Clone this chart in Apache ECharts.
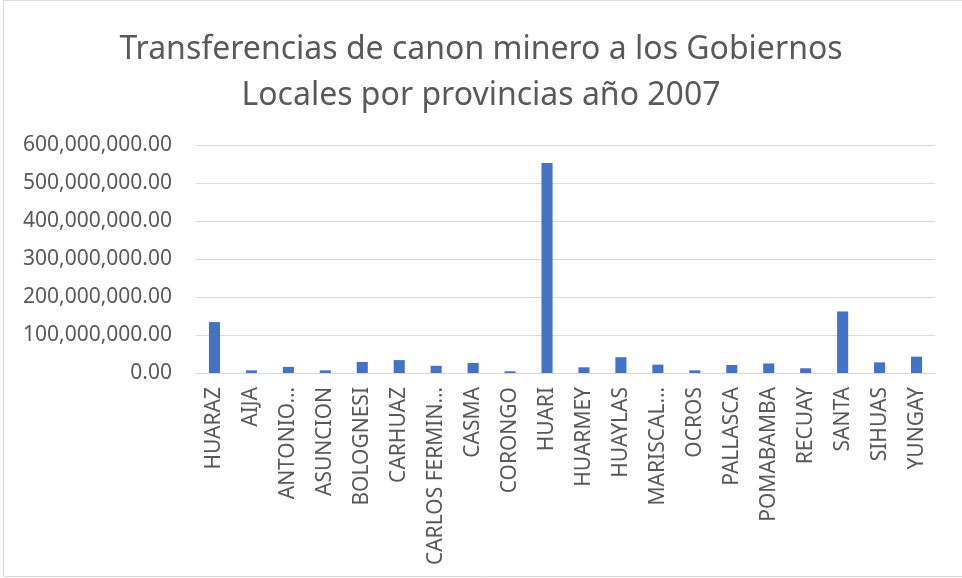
<!DOCTYPE html>
<html>
<head>
<meta charset="utf-8">
<script src="https://cdn.jsdelivr.net/npm/echarts@6/dist/echarts.min.js"></script>
<style>
  html, body { margin: 0; padding: 0; background: #fff; }
  #chart { width: 962px; height: 578px; }
</style>
</head>
<body>
<div id="chart"></div>
<script>
// Provinces of Áncash (axis labels as shown, long names shortened)
const provinces = [
  'HUARAZ', 'AIJA', 'ANTONIO…', 'ASUNCION', 'BOLOGNESI', 'CARHUAZ',
  'CARLOS FERMIN…', 'CASMA', 'CORONGO', 'HUARI', 'HUARMEY', 'HUAYLAS',
  'MARISCAL…', 'OCROS', 'PALLASCA', 'POMABAMBA', 'RECUAY', 'SANTA',
  'SIHUAS', 'YUNGAY'
];

// Mining canon transfers to local governments, 2007 (soles)
const transfers = [
  134000000, 7000000, 16000000, 7000000, 29000000, 34000000,
  19000000, 26500000, 4500000, 552500000, 15000000, 41500000,
  22000000, 7000000, 21000000, 25000000, 12500000, 162000000,
  28000000, 43000000
];

// Value axis ticks
const yTicks = [0, 100000000, 200000000, 300000000, 400000000, 500000000, 600000000];

const chart = echarts.init(document.getElementById('chart'));

function fmt(v) {
  return v.toLocaleString('en-US', { minimumFractionDigits: 2, maximumFractionDigits: 2 });
}

chart.setOption({
  backgroundColor: '#ffffff',
  animation: false,
  textStyle: { fontFamily: 'Noto Sans' },
  title: {
    text: 'Transferencias de canon minero a los Gobiernos\nLocales por provincias año 2007',
    left: 'center',
    top: 22,
    textStyle: {
      fontFamily: 'Noto Sans',
      fontSize: 32,
      fontWeight: 'normal',
      color: '#595959',
      lineHeight: 46
    }
  },
  graphic: [{
    type: 'rect',
    shape: { x: 3.5, y: 0.5, width: 970, height: 576 },
    style: { fill: 'none', stroke: '#d9d9d9', lineWidth: 1 },
    silent: true
  }],
  grid: { left: 196, right: 27, top: 145, bottom: 205, containLabel: false },
  xAxis: {
    type: 'category',
    data: provinces,
    axisLine: { show: true, lineStyle: { color: '#d9d9d9', width: 1 } },
    axisTick: { show: false },
    axisLabel: {
      rotate: 90,
      interval: 0,
      margin: 14,
      color: '#595959',
      fontSize: 21,
      fontFamily: 'Noto Sans'
    }
  },
  yAxis: {
    type: 'value',
    min: yTicks[0],
    max: yTicks[yTicks.length - 1],
    interval: yTicks[1] - yTicks[0],
    axisLine: { show: false },
    axisTick: { show: false },
    splitLine: { lineStyle: { color: '#d9d9d9', width: 1 } },
    axisLabel: {
      margin: 24,
      color: '#595959',
      fontSize: 21,
      fontFamily: 'Noto Sans',
      formatter: fmt
    }
  },
  series: [{
    type: 'bar',
    data: transfers,
    barWidth: '30%',
    itemStyle: { color: '#4472C4' }
  }]
});
</script>
</body>
</html>
